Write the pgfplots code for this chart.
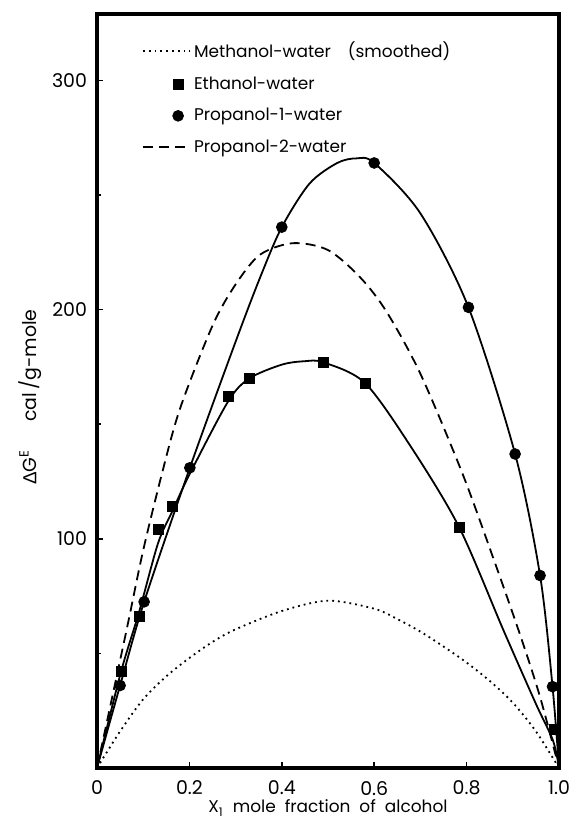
\documentclass[border=0pt]{standalone}
\usepackage{fontspec}
\setmainfont{Poppins}
\newfontfamily\symfont{Liberation Sans}
\usepackage{pgfplots}
\pgfplotsset{compat=1.18}
\pgfplotsset{
  lineleg/.style={legend image code/.code={\draw[##1] (0bp,0bp) -- (23.5bp,0bp);}},
  markleg/.style={legend image code/.code={\draw[##1] plot coordinates {(17.5bp,0bp)};}},
}
\begin{document}
\begin{tikzpicture}
\begin{axis}[
  width=231bp, height=377bp, scale only axis,
  xmin=0, xmax=1, ymin=0, ymax=329,
  axis line style={line width=1.6bp},
  xtick={0,0.2,0.4,0.6,0.8,1}, xticklabels={0,0.2,0.4,0.6,0.8,1.0},
  ytick={100,200,300}, yticklabels={100,200,300},
  minor ytick={50,150,250},
  xtick pos=bottom, ytick pos=left,
  tick align=inside, major tick length=3bp, minor tick length=2bp,
  tick style={line width=0.8bp, black},
  ticklabel style={font=\fontsize{9.5}{11}\selectfont},
  xticklabel style={yshift=-3bp},
  yticklabel style={xshift=-1.5bp},
  xlabel={X\textsubscript{1}\ \ mole\ \ fraction\ \ of\ \ alcohol},
  ylabel={{\symfont Δ}G\textsuperscript{E}\hspace{14bp}cal\,/g-mole},
  xlabel style={font=\fontsize{8.5}{10}\selectfont,
    at={(axis description cs:0.5,0)}, anchor=center, yshift=-20bp},
  ylabel style={font=\fontsize{9.5}{11}\selectfont,
    at={(axis description cs:-0.145,0.492)}, anchor=center},
  legend style={draw=none, fill=none, at={(0.097,0.888)}, anchor=west,
    inner sep=0pt, font=\fontsize{8.5}{10}\selectfont, row sep=5bp,
    nodes={inner sep=1.5bp}},
  legend cell align=left,
]
% methanol-water, smoothed curve only
\addplot[black, dotted, line width=0.9bp, smooth, lineleg] coordinates {
 (0,0)(0.05,16)(0.1,30)(0.15,40)(0.2,48)(0.25,55)(0.3,60.5)(0.4,68.5)
 (0.5,73)(0.6,69.5)(0.65,65)(0.7,59.5)(0.75,53)(0.8,46)(0.85,38)
 (0.9,28.5)(0.95,16)(1,0)};
\addlegendentry{Methanol-water\quad(smoothed)}
% ethanol-water points
\addplot[black, only marks, mark=square*, mark size=2.5bp, markleg] coordinates {
 (0.052,42)(0.091,66)(0.132,104)(0.163,114)(0.284,162)(0.33,170)
 (0.49,177)(0.58,168)(0.784,105)(0.991,17)};
\addlegendentry{Ethanol-water}
% propanol-1-water points
\addplot[black, only marks, mark=*, mark size=2.7bp, markleg] coordinates {
 (0.05,36)(0.102,72.5)(0.201,131)(0.40,236)(0.60,264)(0.804,201)
 (0.905,137)(0.959,84)(0.986,35.5)};
\addlegendentry{Propanol-1-water}
% propanol-2-water
\addplot[black, dash pattern=on 5bp off 3bp, line width=0.9bp, smooth, lineleg] coordinates {
 (0,0)(0.05,47)(0.07,66)(0.1,95)(0.14,128)(0.18,157)(0.25,193)(0.3,211)
 (0.353,224)(0.424,229)(0.5,226)(0.57,214)(0.627,199)(0.7,172)(0.79,129)
 (0.857,92)(0.916,58)(0.959,31)(1,0)};
\addlegendentry{Propanol-2-water}
% curves through the points
\addplot[black, line width=0.9bp, smooth, forget plot] coordinates {
 (0,0)(0.052,42)(0.091,68)(0.132,98)(0.163,112)(0.2,128)(0.284,160)
 (0.33,170)(0.4,176)(0.45,177.5)(0.49,177)(0.58,168)(0.68,140)(0.784,105)
 (0.88,60)(0.95,28)(0.987,12)(1,0)};
\addplot[black, line width=0.9bp, smooth, forget plot] coordinates {
 (0,0)(0.05,36)(0.102,72.5)(0.201,131)(0.3,186)(0.353,214)(0.40,236)
 (0.46,255)(0.52,264)(0.562,266)(0.60,264)(0.7,242)(0.804,201)(0.905,137)
 (0.959,84)(0.986,35.5)(1,0)};
\end{axis}
\pgfresetboundingbox
\path (-48.5bp,-30bp) rectangle (241bp,384bp);
\end{tikzpicture}
\end{document}
